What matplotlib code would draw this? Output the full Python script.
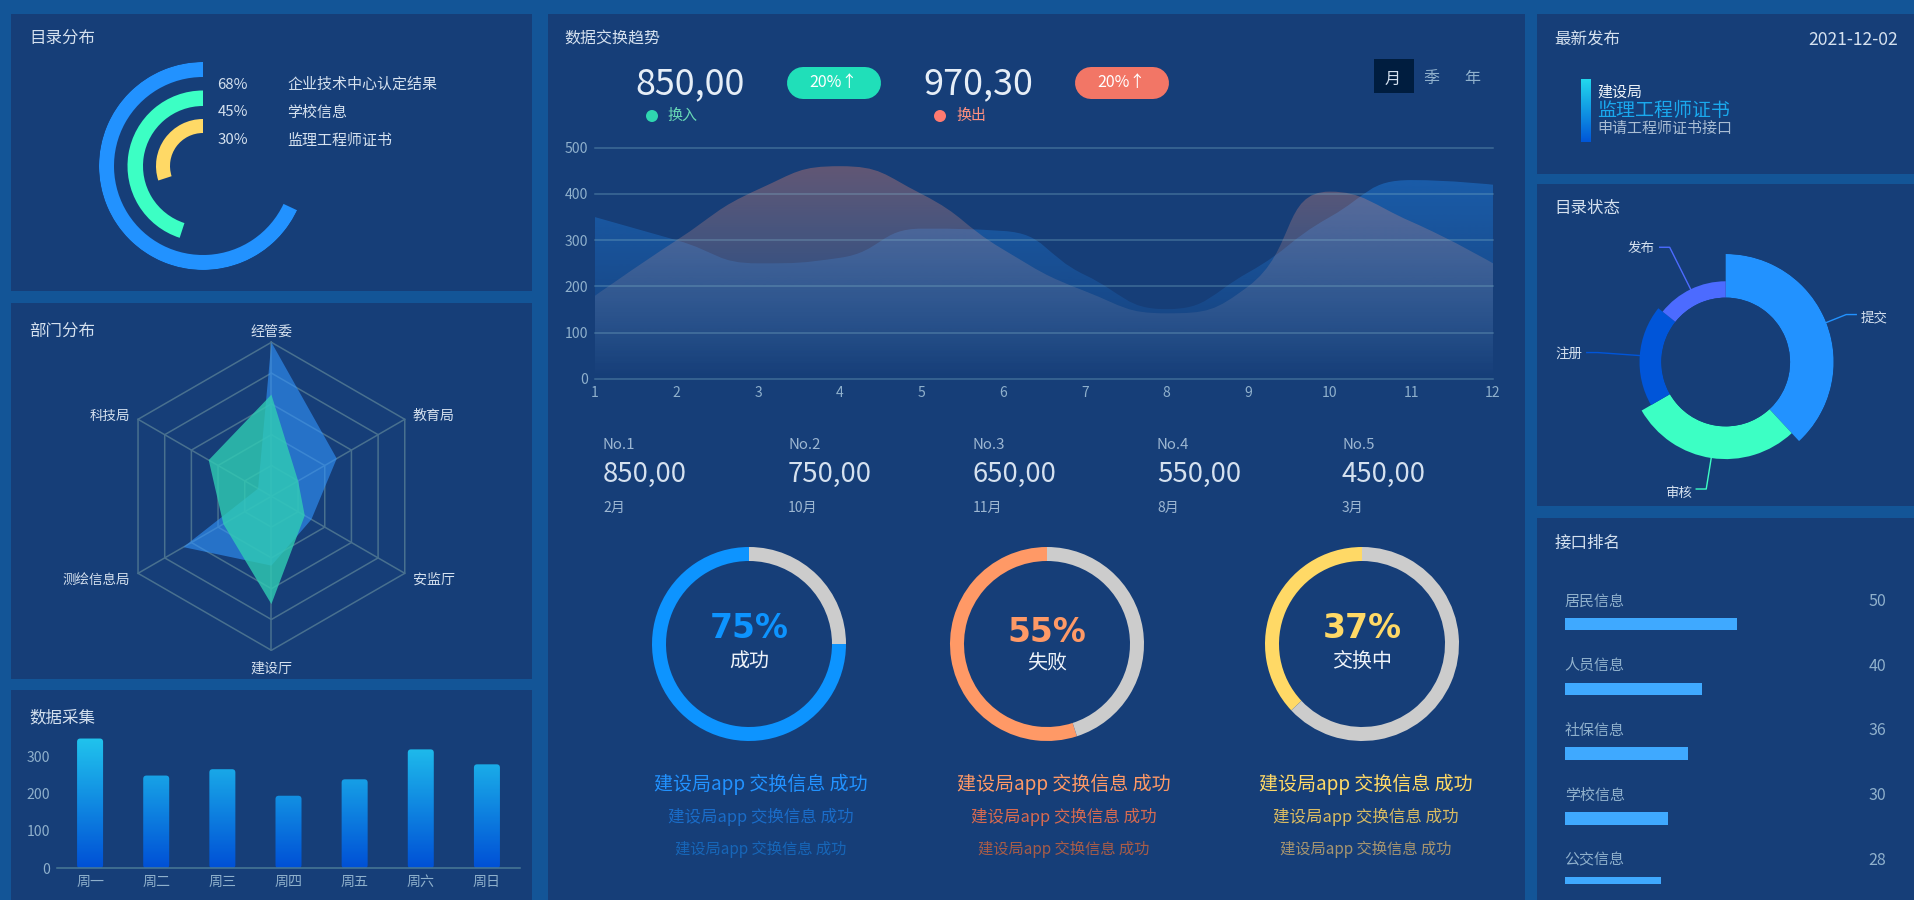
# -*- coding: utf-8 -*-
import numpy as np
import matplotlib
matplotlib.use('Agg')
import matplotlib.pyplot as plt
from matplotlib.colors import to_rgb
from matplotlib.patches import Rectangle, FancyBboxPatch, Circle, PathPatch
from matplotlib.path import Path

plt.rcParams['font.family'] = ['Noto Sans CJK SC', 'DejaVu Sans']

# data
ring_names = ['企业技术中心认定结果', '学校信息', '监理工程师证书']
ring_values = [68, 45, 30]

radar_names = ['经管委', '教育局', '安监厅', '建设厅', '测绘信息局', '科技局']
radar_blue = [100, 49, 30, 45, 66, 10]
radar_green = [66, 20, 25, 70, 36, 47]

week_names = ['周一', '周二', '周三', '周四', '周五', '周六', '周日']
week_values = [347, 248, 265, 194, 238, 318, 278]

months = [1, 2, 3, 4, 5, 6, 7, 8, 9, 10, 11, 12]
flow_in = [350, 300, 250, 262, 325, 320, 225, 151, 230, 350, 430, 420]
flow_out = [180, 300, 410, 460, 400, 280, 190, 142, 200, 405, 340, 250]

top_labels = ['No.1', 'No.2', 'No.3', 'No.4', 'No.5']
top_values = ['850,00', '750,00', '650,00', '550,00', '450,00']
top_months = ['2月', '10月', '11月', '8月', '3月']

gauge_values = [75, 55, 37]
gauge_names = ['成功', '失败', '交换中']

status_names = ['提交', '审核', '注册', '发布']
status_values = [40, 30, 20, 15]

rank_names = ['居民信息', '人员信息', '社保信息', '学校信息', '公交信息']
rank_values = [50, 40, 36, 30, 28]

W, H = 1914, 900
BG = '#135597'
PANEL = '#163e78'
TXT = '#d5e1ef'
DIM = '#8fb0cc'
BLUE = '#2292ff'
GREEN = '#3cffc4'
YELLOW = '#ffd966'
ORANGE = '#ff9966'

fig = plt.figure(figsize=(W / 100, H / 100), dpi=100, facecolor=BG)


def txt(x, y, s, size=15, color=TXT, ha='left', **kw):
    # size in css pixels, position in image pixels
    if ha == 'left':
        x -= 1
    fig.text(x / W, 1 - (y + 2) / H, s, fontsize=size * 0.72, color=color, ha=ha, va='center', **kw)


def box(x0, y0, x1, y1, **kw):
    return fig.add_axes([x0 / W, 1 - y1 / H, (x1 - x0) / W, (y1 - y0) / H], **kw)


def polar(cx, cy, r):
    ax = box(cx - r, cy - r, cx + r, cy + r, projection='polar')
    ax.set_theta_zero_location('N')
    ax.axis('off')
    return ax


def gradient(top, bottom, a_top=1.0, a_bottom=1.0):
    t = np.linspace(0, 1, 256)[:, None, None]
    arr = np.zeros((256, 1, 4))
    arr[:, :, :3] = (1 - t) * np.array(to_rgb(top)) + t * np.array(to_rgb(bottom))
    arr[:, :, 3] = (1 - t[:, :, 0]) * a_top + t[:, :, 0] * a_bottom
    return arr


# page layout
page = fig.add_axes([0, 0, 1, 1], zorder=-1)
page.set_xlim(0, W)
page.set_ylim(H, 0)
page.axis('off')
panels = [(11, 14, 532, 291), (11, 303, 532, 679), (11, 690, 532, 900), (548, 14, 1525, 900),
          (1537, 14, 1914, 174), (1537, 184, 1914, 506), (1537, 518, 1914, 900)]
for x0, y0, x1, y1 in panels:
    page.add_patch(Rectangle((x0, y0), x1 - x0, y1 - y0, fc=PANEL, ec='none'))

txt(30, 37, '目录分布', 16.5)
txt(30, 330, '部门分布', 16.5)
txt(30, 716, '数据采集', 16.5)
txt(565, 37, '数据交换趋势', 16)
txt(1555, 38, '最新发布', 16.5)
txt(1898, 38, '2021-12-02', 17.5, ha='right')
txt(1555, 207, '目录状态', 16.5)
txt(1556, 541, '接口排名', 16.5)

# radial bars
ax = polar(203, 166, 104)
ax.set_ylim(0, 104)
for v, r0, r1, c in zip(ring_values, [89, 60, 33], [104, 75.5, 47], [BLUE, GREEN, YELLOW]):
    ax.bar(0, r1 - r0, width=2 * np.pi * v / 100, bottom=r0, align='edge', color=c)
for i in range(3):
    y = [83, 110.5, 138.5][i]
    txt(218.5, y, '%d%%' % ring_values[i], 15)
    txt(288, y, ring_names[i], 15)

# radar
ax = polar(271.4, 496.3, 154 * 1.05)
ax.set_ylim(0, 105)
theta = np.linspace(0, 2 * np.pi, 7)[:-1]
ax.set_theta_direction(-1)
ring_theta = np.append(theta, theta[0])
for level in [20, 40, 60, 80, 100]:
    ax.plot(ring_theta, [level] * 7, color='#48708f', lw=1.1, zorder=1)
for t in theta:
    ax.plot([t, t], [0, 100], color='#48708f', lw=1.1, zorder=1)
ax.fill(theta, radar_blue, color='#3295ff', alpha=0.6, lw=0, zorder=2)
ax.fill(theta, radar_green, color='#30cdb4', alpha=0.8, lw=0, zorder=3)
txt(271.4, 330, radar_names[0], 14, ha='center')
txt(414, 414, radar_names[1], 14)
txt(414, 578, radar_names[2], 14)
txt(271.4, 667, radar_names[3], 14, ha='center')
txt(130, 578, radar_names[4], 13.5, ha='right')
txt(130, 414, radar_names[5], 13.5, ha='right')

# weekly bars
ax = box(57, 720, 520, 868.3)
ax.set_facecolor('none')
bars = ax.bar(range(7), week_values, width=26 / 66.1, color='none')
for b in bars:
    p = FancyBboxPatch(b.get_xy(), b.get_width(), b.get_height(), fc='none', ec='none',
                       boxstyle='round,pad=0,rounding_size=0.05', mutation_aspect=(1 / 0.374) / (1 / 66.1))
    ax.add_patch(p)
    im = ax.imshow(gradient('#22c8ee', '#0050d6'), extent=(-0.5, 6.5, 0, 360), aspect='auto',
                   interpolation='bilinear')
    im.set_clip_path(p)
ax.set_xlim(-0.5, 6.5)
ax.set_ylim(0, (868.3 - 720) / 0.374)
ax.set_xticks(range(7))
ax.set_xticklabels(week_names)
ax.set_yticks([0, 100, 200, 300])
ax.tick_params(length=0, labelsize=14 * 0.72, labelcolor=DIM, pad=5)
for s in ['top', 'left', 'right']:
    ax.spines[s].set_visible(False)
ax.spines['bottom'].set_color('#4a7a96')
ax.spines['bottom'].set_linewidth(1.1)

# exchange trend header
txt(690, 82, '850,00', 36, '#e6eef7', ha='center')
txt(978, 82, '970,30', 36, '#e6eef7', ha='center')
for x0, c in [(787, '#20dfb9'), (1075, '#f27666')]:
    page.plot([x0 + 16, x0 + 78], [83, 83], color=c, lw=32 * 0.72, solid_capstyle='round', zorder=2)
    txt(x0 + 47, 81, '20%↑', 16, 'white', ha='center')
page.add_patch(Circle((652, 116), 6, fc='#2fd7b0', ec='none'))
page.add_patch(Circle((940, 116), 6, fc='#ff7a70', ec='none'))
txt(668, 114, '换入', 15, '#68d9b6')
txt(957, 114, '换出', 15, '#ff9080')
page.add_patch(Rectangle((1374, 59), 40, 34, fc='#001d3f', ec='none'))
txt(1393, 77, '月', 16, ha='center')
txt(1431, 77, '季', 16, DIM, ha='center')
txt(1472, 77, '年', 16, DIM, ha='center')


# smooth area, control points follow the series values and stop at neighbours
def area_path(xs, ys):
    sx, sy = 81.6, 0.463
    verts = [(xs[0], 0), (xs[0], ys[0])]
    codes = [Path.MOVETO, Path.LINETO]
    n = len(xs)
    out_cp = [None] * n
    in_cp = [None] * n
    for i in range(n):
        a = max(i - 1, 0)
        b = min(i + 1, n - 1)
        d0 = np.hypot((xs[i] - xs[a]) * sx, (ys[i] - ys[a]) * sy)
        d1 = np.hypot((xs[b] - xs[i]) * sx, (ys[b] - ys[i]) * sy)
        dx = (xs[b] - xs[a]) * 0.5
        dy = (ys[b] - ys[a]) * 0.5
        r = d1 / (d0 + d1)
        ix, iy = xs[i] - dx * (1 - r), ys[i] - dy * (1 - r)
        if i in (0, n - 1):
            in_cp[i] = (xs[i], ys[i])
            out_cp[i] = (xs[i], ys[i])
            continue
        # previous side clamp
        iy = min(max(iy, min(ys[a], ys[i])), max(ys[a], ys[i]))
        ox = xs[i] + (xs[i] - ix) * d1 / d0
        oy = ys[i] + (ys[i] - iy) * d1 / d0
        # next side clamp
        oy = min(max(oy, min(ys[b], ys[i])), max(ys[b], ys[i]))
        ox = min(ox, xs[b])
        ix = xs[i] - (ox - xs[i]) * d0 / d1
        iy = ys[i] - (oy - ys[i]) * d0 / d1
        in_cp[i] = (ix, iy)
        out_cp[i] = (ox, oy)
    for i in range(n - 1):
        verts += [out_cp[i], in_cp[i + 1], (xs[i + 1], ys[i + 1])]
        codes += [Path.CURVE4] * 3
    verts += [(xs[-1], 0), (xs[0], 0)]
    codes += [Path.LINETO, Path.CLOSEPOLY]
    return Path(verts, codes)


ax = box(595, 147.7, 1493, 379)
ax.set_facecolor('none')
blue_area = PathPatch(area_path(months, flow_in), fc='none', ec='none')
ax.add_patch(blue_area)
im = ax.imshow(gradient('#2292ff', '#2292ff', 0.42, 0.0), extent=(1, 12, 0, 500), aspect='auto',
               interpolation='bilinear', zorder=1)
im.set_clip_path(blue_area)
pink_area = PathPatch(area_path(months, flow_out), fc='none', ec='none')
ax.add_patch(pink_area)
im = ax.imshow(gradient('#ff8264', '#dcdce0', 0.36, 0.0), extent=(1, 12, 0, 500), aspect='auto',
               interpolation='bilinear', zorder=2)
im.set_clip_path(pink_area)
ax.set_xlim(1, 12)
ax.set_ylim(0, 500)
ax.set_xticks(months)
ax.set_yticks([0, 100, 200, 300, 400, 500])
ax.tick_params(length=0, labelsize=14 * 0.72, labelcolor=DIM, pad=5)
ax.grid(axis='y', color='#7fb3c8', alpha=0.38, lw=1.1, zorder=3)
ax.set_axisbelow(False)
for l in ax.get_ygridlines():
    l.set_clip_on(False)
    l.set_zorder(3)
for s in ax.spines.values():
    s.set_visible(False)

# top five
for i, x in enumerate([604, 789, 974, 1158, 1343]):
    txt(x, 443, top_labels[i], 15, '#9db7d2')
    txt(x, 472, top_values[i], 27.5, '#d5e1ef')
    txt(x, 506, top_months[i], 14, '#9db7d2')

# gauges
gauge_x = [749, 1047, 1362]
gauge_c = ['#0d94ff', ORANGE, YELLOW]
gauge_text_y = [627, 631, 627]
gauge_name_y = [660, 661, 660]
line_x = [761, 1064, 1366]
line2_c = ['#1a6cc8', '#d76a50', '#d9bb62']
line3_c = ['#1766b8', '#a85c48', '#a69570']
line1_c = [BLUE, ORANGE, YELLOW]
for i in range(3):
    ax = box(gauge_x[i] - 97, 644 - 97, gauge_x[i] + 97, 644 + 97)
    v = gauge_values[i]
    ax.pie([v, 100 - v], colors=[gauge_c[i], '#cccccc'], startangle=90, radius=1,
           wedgeprops={'width': 14 / 97})
    ax.set_xlim(-1, 1)
    ax.set_ylim(-1, 1)
    txt(gauge_x[i], gauge_text_y[i], '%d%%' % v, 33, gauge_c[i], ha='center', family='DejaVu Sans', weight='bold')
    txt(gauge_x[i], gauge_name_y[i], gauge_names[i], 20, '#eef3f9', ha='center')
    txt(line_x[i], 782, '建设局app 交换信息 成功', 19, line1_c[i], ha='center')
    txt(line_x[i], 815, '建设局app 交换信息 成功', 16.5, line2_c[i], ha='center')
    txt(line_x[i], 847, '建设局app 交换信息 成功', 15.3, line3_c[i], ha='center')

# latest release
page.imshow(gradient('#22d8ee', '#0056d8'), extent=(1581, 1591, 142, 79), aspect='auto',
            interpolation='bilinear', zorder=2)
page.set_xlim(0, W)
page.set_ylim(H, 0)
txt(1598, 90, '建设局', 15, '#f0f5fa', weight='medium')
txt(1598, 108, '监理工程师证书', 19, '#1aa9ee')
txt(1598, 127, '申请工程师证书接口', 15, '#a9bdd4')

# status rose
ROSE_CX, ROSE_CY, ROSE_R = 1725.7, 362, 108
ax = polar(ROSE_CX, ROSE_CY, ROSE_R)
ax.set_theta_direction(-1)
ax.set_rorigin(-59)
ax.set_ylim(0, 40)
status_c = [BLUE, GREEN, '#0055d9', '#4c6bff']
spans = 2 * np.pi * np.array(status_values) / sum(status_values)
starts = np.cumsum(np.append(0, spans[:-1]))
ax.bar(starts, status_values, width=spans, align='edge', color=status_c, linewidth=0)
# leaders run from the middle of each slice out to its label
elbows = [((20, -8), (30, -8)), ((-5, 31), (-15, 31)), ((-42, -3), (-53, -3)), ((-21, -42), (-31, -42))]
for i in range(4):
    mid = starts[i] + spans[i] / 2
    r = (status_values[i] + 59) * 108 / 99
    p0 = (ROSE_CX + r * np.sin(mid), ROSE_CY - r * np.cos(mid))
    pts = [p0, (p0[0] + elbows[i][0][0], p0[1] + elbows[i][0][1]), (p0[0] + elbows[i][1][0], p0[1] + elbows[i][1][1])]
    page.plot([q[0] for q in pts], [q[1] for q in pts], color=status_c[i], lw=1.0, zorder=2)
page.set_xlim(0, W)
page.set_ylim(H, 0)
txt(1862, 315, status_names[0], 13.5)
txt(1693, 491, status_names[1], 13.5, ha='right')
txt(1582.7, 352, status_names[2], 13.5, ha='right')
txt(1655, 245.7, status_names[3], 13.5, ha='right')

# interface ranking
ax = box(1565, 610, 1865, 884)
ax.set_facecolor('none')
ax.barh(range(5), rank_values, height=12.5 / 64.75, color='#3fa9ff')
ax.set_xlim(0, 300 / 3.43)
ax.set_ylim((884 - 624) / 64.75, (610 - 624) / 64.75)
ax.axis('off')
for i in range(5):
    y = 599.3 + 64.8 * i
    txt(1565.7, y, rank_names[i], 15, DIM)
    txt(1886, y, str(rank_values[i]), 16, DIM, ha='right')

fig.savefig('out.png', dpi=100, facecolor=BG)
